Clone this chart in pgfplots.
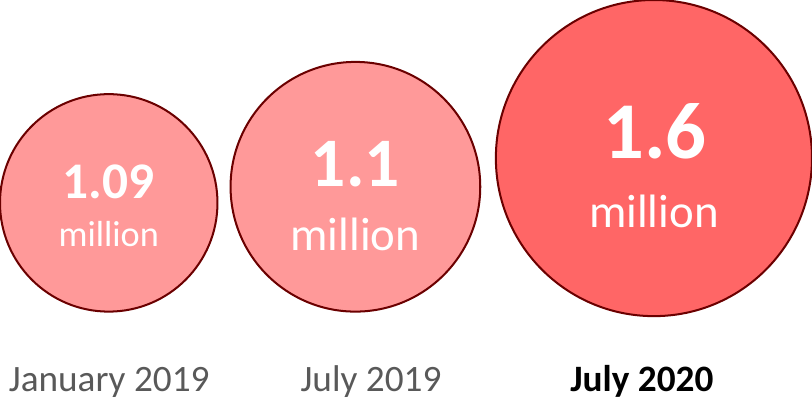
\documentclass[border=0pt]{standalone}
\usepackage{pgfplots}
\pgfplotsset{compat=1.18}
\usepackage{fontspec}
\setmainfont{Carlito}
\definecolor{lightc}{HTML}{FF9999}
\definecolor{darkc}{HTML}{FF6666}
\definecolor{edgec}{HTML}{6B0000}
\definecolor{labgray}{HTML}{595959}
\begin{document}
\begin{tikzpicture}
\begin{axis}[
  set layers,
  scale only axis, width=812pt, height=399pt,
  xmin=0, xmax=812, ymin=0, ymax=399, y dir=reverse,
  hide axis, clip=false,
]
% circles: value 1.09, 1.1, 1.6 million (radius in pt)
\addplot[only marks, mark=*, mark size=108pt, mark options={fill=lightc, draw=edgec, line width=2pt}] coordinates {(110.5,201)};
\addplot[only marks, mark=*, mark size=124pt, mark options={fill=lightc, draw=edgec, line width=2pt}] coordinates {(355.5,185)};
\addplot[only marks, mark=*, mark size=157pt, mark options={fill=darkc, draw=edgec, line width=2pt}] coordinates {(652,156.5)};
\begin{pgfonlayer}{axis foreground}
\node[anchor=base, text=white, font=\fontsize{51}{51}\selectfont\bfseries] at (axis cs:110.5,197) {1.09};
\node[anchor=base, text=white, font=\fontsize{36}{36}\selectfont] at (axis cs:110.5,244) {million};
\node[anchor=base, text=white, font=\fontsize{69}{69}\selectfont\bfseries] at (axis cs:355.5,185) {1.1};
\node[anchor=base, text=white, font=\fontsize{46.5}{46.5}\selectfont] at (axis cs:355.5,248) {million};
\node[anchor=base, text=white, font=\fontsize{80}{80}\selectfont\bfseries] at (axis cs:653,157) {1.6};
\node[anchor=base, text=white, font=\fontsize{46.5}{46.5}\selectfont] at (axis cs:652,225) {million};
\end{pgfonlayer}
\node[anchor=base, text=labgray, font=\fontsize{37}{37}\selectfont] at (axis cs:111,388) {January 2019};
\node[anchor=base, text=labgray, font=\fontsize{37}{37}\selectfont] at (axis cs:371,388) {July 2019};
\node[anchor=base, text=black, font=\fontsize{37}{37}\selectfont\bfseries] at (axis cs:640,388) {July 2020};
\end{axis}
\end{tikzpicture}
\end{document}
